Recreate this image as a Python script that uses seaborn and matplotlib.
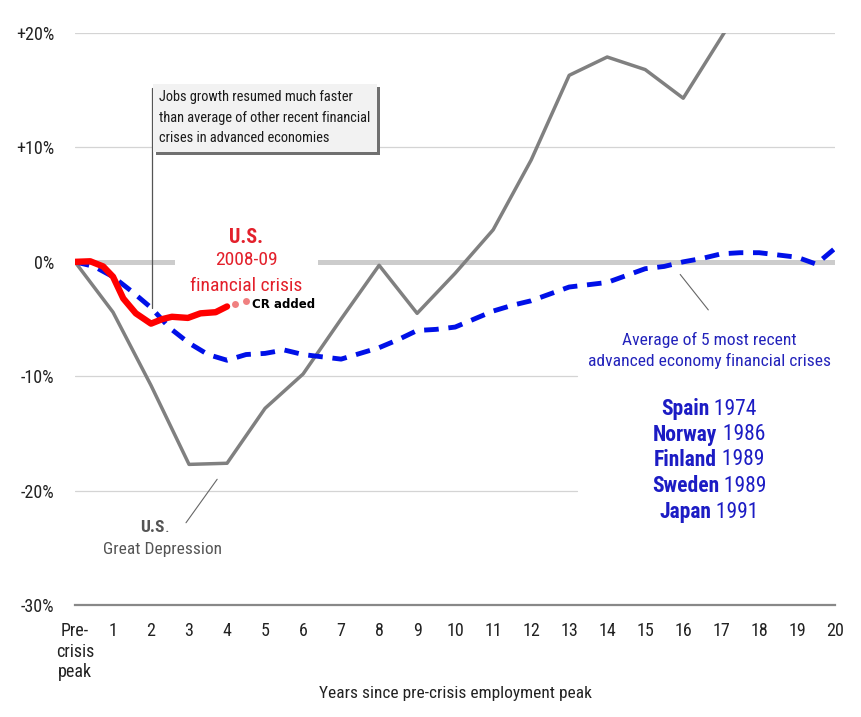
import matplotlib
matplotlib.use("Agg")
import matplotlib.pyplot as plt
from matplotlib import font_manager
from matplotlib.patches import Rectangle
import seaborn as sns

# data (percent change from pre-crisis employment peak)
depression_years = [0, 1, 2, 3, 4, 5, 6, 7, 8, 9, 10, 11, 12, 13, 14, 15, 16, 17, 18]
depression_pct = [0, -4.4, -10.8, -17.7, -17.6, -12.8, -9.8, -5.0, -0.3, -4.5, -1.0,
                  2.8, 8.9, 16.3, 17.9, 16.8, 14.3, 19.6, 25.0]

avg_years = [0, 0.5, 1, 1.5, 2, 2.5, 3, 3.5, 4, 4.5, 5, 5.5, 6, 6.5, 7, 7.5, 8, 8.5,
             9, 9.5, 10, 10.5, 11, 11.5, 12, 12.5, 13, 13.5, 14, 14.5, 15, 15.5, 16,
             16.5, 17, 17.5, 18, 18.5, 19, 19.5, 20]
avg_pct = [0, -0.4, -1.3, -2.6, -4.0, -5.8, -7.1, -8.1, -8.6, -8.1, -8.0, -7.7, -8.1,
           -8.3, -8.5, -8.0, -7.5, -6.8, -6.0, -5.9, -5.7, -5.0, -4.3, -3.8, -3.4,
           -2.8, -2.2, -2.0, -1.8, -1.2, -0.6, -0.4, 0.0, 0.3, 0.7, 0.8, 0.8, 0.6,
           0.4, -0.2, 1.2]

us_years = [0, 0.4, 0.74, 1.0, 1.27, 1.6, 2.0, 2.3, 2.55, 2.97, 3.3, 3.7, 4.0]
us_pct = [0, 0.05, -0.4, -1.3, -3.2, -4.5, -5.4, -5.0, -4.8, -4.9, -4.5, -4.4, -3.9]

cr_years = [4.2, 4.5]
cr_pct = [-3.7, -3.4]

countries = ["Spain", "Norway", "Finland", "Sweden", "Japan"]
crisis_years = ["1974", "1986", "1989", "1989", "1991"]

xticks = list(range(21))
xtick_labels = ["Pre-\ncrisis\npeak"] + [str(i) for i in range(1, 21)]
yticks = [-30, -20, -10, 0, 10, 20]
ytick_labels = ["-30%", "-20%", "-10%", "0%", "+10%", "+20%"]

sns.set_style("white")
names = {f.name for f in font_manager.fontManager.ttflist}
cond = "DejaVu Sans"
for cand in ["Liberation Sans Narrow", "Roboto Condensed", "Roboto", "Liberation Sans"]:
    if cand in names:
        cond = cand
        break
plt.rcParams["font.family"] = [cond, "DejaVu Sans"]

red = "#ff0000"
red_txt = "#e3202b"
blue = "#0010e8"
blue_txt = "#2323bb"
gray = "#808080"
gray_txt = "#555555"

fig = plt.figure(figsize=(8.62, 7.17), dpi=100)
ax = fig.add_axes([0.087, 0.156, 0.882, 0.798])
ax.set_xlim(0, 20)
ax.set_ylim(-30, 20)

# gridlines
for yv, xe in [(20, 20), (10, 20), (-10, 13.2), (-20, 13.2)]:
    ax.plot([0, xe], [yv, yv], color="#d4d4d4", lw=0.9, zorder=1)
ax.plot([0, 20], [0, 0], color="#cccccc", lw=3.6, zorder=1, solid_capstyle="butt")
ax.add_patch(Rectangle((2.63, -0.6), 3.76, 1.2, facecolor="white", edgecolor="none", zorder=2))

sns.lineplot(x=depression_years, y=depression_pct, ax=ax, color=gray, lw=2.5,
             sort=False, estimator=None, zorder=3)
sns.lineplot(x=avg_years, y=avg_pct, ax=ax, color=blue, lw=3.5, linestyle=(0, (3, 2)),
             sort=False, estimator=None, zorder=4)
sns.lineplot(x=us_years, y=us_pct, ax=ax, color=red, lw=4.6, sort=False,
             estimator=None, zorder=5, solid_capstyle="round")
ax.plot(cr_years, cr_pct, "o", color="#f08080", ms=5, mec="none", zorder=5)
ax.text(4.66, -3.75, "CR added", family="DejaVu Sans", fontweight="bold", fontsize=8.5,
        color="black", ha="left", va="center", zorder=6)

# axes styling
for s in ["top", "right", "left"]:
    ax.spines[s].set_visible(False)
ax.spines["bottom"].set_color("#888888")
ax.spines["bottom"].set_linewidth(1.6)
ax.set_xticks(xticks)
ax.set_xticklabels(xtick_labels, multialignment="center", linespacing=1.2)
ax.set_yticks(yticks)
ax.set_yticklabels(ytick_labels)
ax.tick_params(axis="x", length=5, width=1, color="#888888", pad=7, labelsize=13,
               labelcolor="#222222")
ax.tick_params(axis="y", length=0, pad=15, labelsize=13, labelcolor="#222222")
ax.set_xlabel("Years since pre-crisis employment peak", fontsize=12.5, color="#222222",
              labelpad=3)
ax.set_ylabel("")

# red label
ax.text(4.5, 2.1, "U.S.", color=red_txt, fontsize=14.5, fontweight="bold", ha="center",
        va="center", zorder=6)
ax.text(4.5, 0.15, "2008-09", color=red_txt, fontsize=14, ha="center", va="center", zorder=6)
ax.text(4.5, -2.1, "financial crisis", color=red_txt, fontsize=14, ha="center",
        va="center", zorder=6)

# callout box
note = "Jobs growth resumed much faster\nthan average of other recent financial\ncrises in advanced economies"
box = ax.text(2.22, 15.0, note, fontsize=10.4, color="#1a1a1a", ha="left", va="top",
              linespacing=1.6, zorder=7,
              bbox=dict(boxstyle="square,pad=0.45", facecolor="#f2f2f2", edgecolor="none"))
ax.plot([2.03, 2.03], [15.2, -4.0], color="#555555", lw=0.9, zorder=6)

# leader lines
ax.plot([3.74, 2.92], [-19.0, -22.8], color="#666666", lw=0.8, zorder=6)
ax.plot([15.92, 16.66], [-1.1, -4.2], color="#666666", lw=0.8, zorder=6)

ax.text(16.68, -6.8, "Average of 5 most recent", color=blue_txt, fontsize=12.6,
        ha="center", va="center")
ax.text(16.68, -8.7, "advanced economy financial crises", color=blue_txt, fontsize=12.6,
        ha="center", va="center")

ax.text(2.29, -25.1, "Great Depression", color=gray_txt, fontsize=12.5, ha="center",
        va="center")

# mixed bold/regular lines, centred by measuring
pairs = []
pairs.append((ax.text(0, -23.2, "U.S", color=gray_txt, fontsize=12.5, fontweight="bold",
                      va="center"),
              ax.text(0, -23.2, ".", color=gray_txt, fontsize=12.5, va="center"), 2.1))
country_y = [-12.9, -15.1, -17.3, -19.6, -21.9]
for name, yr, yv in zip(countries, crisis_years, country_y):
    t1 = ax.text(0, yv, name, color="#1c1cc4", fontsize=15.5, fontweight="bold", va="center")
    t2 = ax.text(0, yv, "\u00a0" + yr, color="#1c1cc4", fontsize=15.5, va="center")
    pairs.append((t1, t2, 16.68))

fig.canvas.draw()
r = fig.canvas.get_renderer()
inv = ax.transData.inverted()
for t1, t2, xc in pairs:
    w1 = t1.get_window_extent(r).width
    w2 = t2.get_window_extent(r).width
    yv = t1.get_position()[1]
    px, py = ax.transData.transform((xc, yv))
    x0 = px - (w1 + w2) / 2
    t1.set_position((inv.transform((x0, py))[0], yv))
    t2.set_position((inv.transform((x0 + w1, py))[0], yv))

# drop shadow under the callout box
bb = box.get_bbox_patch().get_window_extent(r)
(sx0, sy0) = inv.transform((bb.x0 + 3, bb.y0 - 3))
(sx1, sy1) = inv.transform((bb.x1 + 3, bb.y1 - 3))
ax.add_patch(Rectangle((sx0, sy0), sx1 - sx0, sy1 - sy0, facecolor="#707070",
                       edgecolor="none", zorder=6.5))

fig.savefig("out.png", dpi=100, facecolor="white")
